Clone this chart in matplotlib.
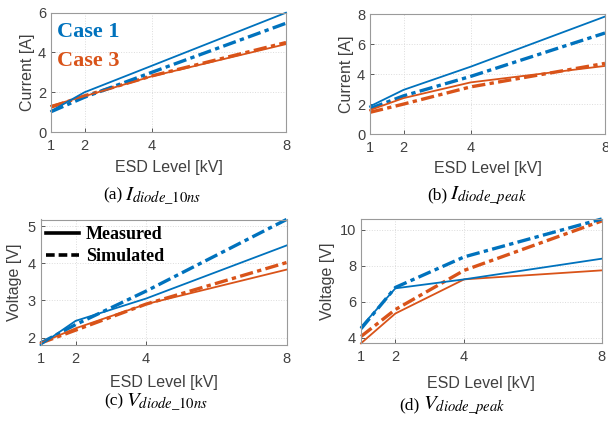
import matplotlib
matplotlib.use("Agg")
import matplotlib.pyplot as plt
from matplotlib.lines import Line2D

# ESD levels (kV)
esd_kv = [1, 2, 4, 8]

# (a) I_diode_10ns [A]
i10_case1_meas = [1.05, 2.0, 3.33, 6.0]
i10_case1_sim = [1.02, 1.75, 3.0, 5.47]
i10_case3_meas = [1.32, 1.8, 2.8, 4.42]
i10_case3_sim = [1.25, 1.82, 2.82, 4.5]

# (b) I_diode_peak [A]
ipk_case1_meas = [1.85, 2.95, 4.5, 7.85]
ipk_case1_sim = [1.7, 2.55, 3.85, 6.75]
ipk_case3_meas = [1.6, 2.4, 3.45, 4.55]
ipk_case3_sim = [1.45, 2.0, 3.15, 4.72]

# (c) V_diode_10ns [V]
v10_case1_meas = [1.8, 2.45, 3.05, 4.48]
v10_case1_sim = [1.85, 2.35, 3.25, 5.18]
v10_case3_meas = [1.85, 2.25, 2.9, 3.83]
v10_case3_sim = [1.85, 2.2, 2.9, 4.02]

# (d) V_diode_peak [V]
vpk_case1_meas = [4.6, 6.75, 7.25, 8.4]
vpk_case1_sim = [4.5, 6.8, 8.5, 10.61]
vpk_case3_meas = [3.69, 5.35, 7.25, 7.75]
vpk_case3_sim = [4.07, 5.57, 7.75, 10.5]

C1 = '#0072BD'
C3 = '#D95319'
GRAY = '#404040'
W, H = 608, 421

plt.rcParams['font.family'] = ['Liberation Sans', 'DejaVu Sans']
plt.rcParams['mathtext.fontset'] = 'stix'

fig = plt.figure(figsize=(W / 100, H / 100), dpi=100)


def px_axes(left, top, right, bottom):
    # axes from pixel box (origin top-left)
    return fig.add_axes([left / W, 1 - bottom / H, (right - left) / W, (bottom - top) / H])


def style_axes(ax, ylim, yticks, ylabel, ylab_x, xlab_y):
    ax.set_xlim(1, 8)
    ax.set_ylim(*ylim)
    ax.set_xticks(esd_kv)
    ax.set_yticks(yticks)
    ax.tick_params(direction='in', length=3, width=0.6, colors=GRAY,
                   labelsize=10.5, top=False, right=False)
    ax.tick_params(axis='x', pad=5)
    ax.tick_params(axis='y', pad=3.5)
    ax.grid(True, color='#dcdcdc', linestyle=':', linewidth=0.7)
    for s in ax.spines.values():
        s.set_color('#9a9a9a')
        s.set_linewidth(0.8)
    ax.set_xlabel('ESD Level [kV]', fontsize=11.5, color=GRAY)
    ax.set_ylabel(ylabel, fontsize=11.5, color=GRAY)
    ax.xaxis.set_label_coords(0.5, xlab_y)
    ax.yaxis.set_label_coords(ylab_x, 0.5)
    ax.xaxis.label.set_va('center')
    ax.yaxis.label.set_va('center')


def draw_lines(ax, c1m, c1s, c3m, c3s):
    dd = (4, 1.3, 1.3, 1.3)
    ax.plot(esd_kv, c3s, color=C3, lw=2.4, dashes=dd, clip_on=False)
    ax.plot(esd_kv, c1s, color=C1, lw=2.4, dashes=dd, clip_on=False)
    ax.plot(esd_kv, c3m, color=C3, lw=1.3, clip_on=False)
    ax.plot(esd_kv, c1m, color=C1, lw=1.3, clip_on=False)


ax_a = px_axes(51, 12.7, 286, 132)
ax_b = px_axes(370, 14.3, 605, 134)
ax_c = px_axes(40.5, 219.5, 286.5, 345)
ax_d = px_axes(361, 219, 601.7, 343.3)

draw_lines(ax_a, i10_case1_meas, i10_case1_sim, i10_case3_meas, i10_case3_sim)
style_axes(ax_a, (0, 6), [0, 2, 4, 6], 'Current [A]', -0.098, -0.30)

draw_lines(ax_b, ipk_case1_meas, ipk_case1_sim, ipk_case3_meas, ipk_case3_sim)
style_axes(ax_b, (0, 8), [0, 2, 4, 6, 8], 'Current [A]', -0.102, -0.285)

draw_lines(ax_c, v10_case1_meas, v10_case1_sim, v10_case3_meas, v10_case3_sim)
style_axes(ax_c, (1.8, 5.18), [2, 3, 4, 5], 'Voltage [V]', -0.104, -0.30)

draw_lines(ax_d, vpk_case1_meas, vpk_case1_sim, vpk_case3_meas, vpk_case3_sim)
style_axes(ax_d, (3.69, 10.61), [4, 6, 8, 10], 'Voltage [V]', -0.141, -0.32)

# case labels
fig.text(57 / W, 1 - 32 / H, 'Case 1', color=C1, fontsize=16, fontweight='bold',
         family='Liberation Serif', va='center', ha='left')
fig.text(57 / W, 1 - 61 / H, 'Case 3', color=C3, fontsize=16, fontweight='bold',
         family='Liberation Serif', va='center', ha='left')

# line style legend
handles = [Line2D([], [], color='black', lw=2.6),
           Line2D([], [], color='black', lw=2.6, dashes=(2.4, 1.1))]
ax_c.legend(handles, ['Measured', 'Simulated'], loc='upper left',
            bbox_to_anchor=(46 / W, 1 - 226 / H), bbox_transform=fig.transFigure,
            frameon=False, borderpad=0, borderaxespad=0, handlelength=1.8,
            handletextpad=0.4, labelspacing=0.28,
            prop={'family': 'Liberation Serif', 'weight': 'bold', 'size': 13})

# captions: "(x)" label then the symbol with a bigger math font
captions = [(122, 199, '(a)', r'$I_{diode\_10ns}$'),
            (447, 199, '(b)', r'$I_{diode\_peak}$'),
            (123, 405, '(c)', r'$V_{diode\_10ns}$'),
            (420, 409, '(d)', r'$V_{diode\_peak}$')]
for x, y, tag, sym in captions:
    fig.text(x / W, 1 - y / H, tag, fontsize=12.5, family='Liberation Serif',
             ha='right', va='baseline', color='black')
    fig.text((x + 3) / W, 1 - y / H, sym, fontsize=15,
             ha='left', va='baseline', color='black')

fig.savefig('out.png', dpi=100)
